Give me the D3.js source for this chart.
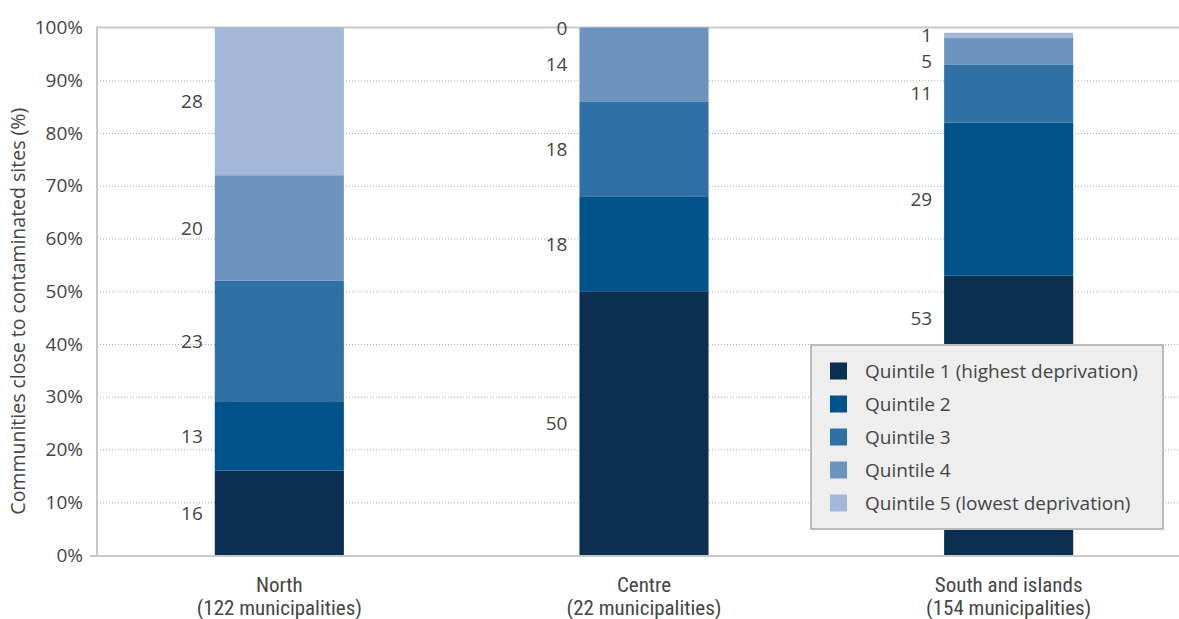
<!DOCTYPE html>
<html><head><meta charset="utf-8">
<script src="https://cdn.jsdelivr.net/npm/d3@7"></script>
<style>
html,body{margin:0;padding:0;background:#fff;}
svg{display:block;}
</style></head>
<body>
<svg id="chart" width="1179" height="619"></svg>
<script>
// ---- data ----
const categories = ["North", "Centre", "South and islands"];
const categorySubs = ["(122 municipalities)", "(22 municipalities)", "(154 municipalities)"];
const seriesNames = ["Quintile 1 (highest deprivation)", "Quintile 2", "Quintile 3", "Quintile 4", "Quintile 5 (lowest deprivation)"];
const quintile1 = [16, 50, 53];
const quintile2 = [13, 18, 29];
const quintile3 = [23, 18, 11];
const quintile4 = [20, 14, 5];
const quintile5 = [28, 0, 1];
const yTickValues = [0, 10, 20, 30, 40, 50, 60, 70, 80, 90, 100];
const yTickLabels = ["0%", "10%", "20%", "30%", "40%", "50%", "60%", "70%", "80%", "90%", "100%"];
const colors = ["#0b2f51", "#00528b", "#2f71a5", "#6d93bf", "#a3b8d8"];

// ---- layout ----
const svg = d3.select("#chart");
const plot = {left: 97, right: 1191, top: 27.5, bottom: 555};
const font = "'Open Sans', sans-serif";
const textColor = "#454545";

const seriesArrays = [quintile1, quintile2, quintile3, quintile4, quintile5];
const keys = seriesNames;
const rows = categories.map((c, i) => {
  const r = {cat: c};
  keys.forEach((k, j) => r[k] = seriesArrays[j][i]);
  return r;
});
const stacked = d3.stack().keys(keys)(rows);

const x = d3.scaleBand().domain(categories).range([plot.left, plot.right])
  .paddingInner(0.646).paddingOuter(0.323);
const y = d3.scaleLinear().domain([0, 100]).range([plot.bottom, plot.top]);

// gridlines
svg.append("g").selectAll("line").data(yTickValues.filter(v => v > 0 && v < 100)).join("line")
  .attr("x1", plot.left).attr("x2", 1179)
  .attr("y1", d => y(d) + 0.5).attr("y2", d => y(d) + 0.5)
  .attr("stroke", "#ababab").attr("stroke-width", 1).attr("stroke-dasharray", "1,2");

// frame lines
svg.append("line").attr("x1", plot.left).attr("x2", 1179).attr("y1", plot.top).attr("y2", plot.top)
  .attr("stroke", "#c8c8c8").attr("stroke-width", 2);
svg.append("line").attr("x1", plot.left).attr("x2", plot.left).attr("y1", plot.top - 1).attr("y2", plot.bottom)
  .attr("stroke", "#c8c8c8").attr("stroke-width", 2);

// bars
const layers = svg.append("g").selectAll("g").data(stacked).join("g")
  .attr("fill", (d, i) => colors[i]);
layers.selectAll("rect").data(d => d).join("rect")
  .attr("x", d => x(d.data.cat))
  .attr("width", x.bandwidth())
  .attr("y", d => y(d[1]))
  .attr("height", d => y(d[0]) - y(d[1]));

// bottom axis line
svg.append("line").attr("x1", 90).attr("x2", 1179).attr("y1", plot.bottom + 1).attr("y2", plot.bottom + 1)
  .attr("stroke", "#c8c8c8").attr("stroke-width", 2);

// legend box geometry
const legend = {x: 811, y: 345, w: 352, h: 184};

// value labels: placed at segment middle, pushed down to avoid overlap, lifted above legend
categories.forEach((c, ci) => {
  const lx = x(c) - 12;
  let prevY = -Infinity;
  for (let li = stacked.length - 1; li >= 0; li--) {
    const d = stacked[li][ci];
    let ly = (y(d[0]) + y(d[1])) / 2;
    if (ly < prevY + 26) ly = prevY + 26;
    if (lx > legend.x && ly > legend.y - 10 && ly < legend.y + legend.h) ly = legend.y - 27;
    prevY = ly;
    svg.append("text")
      .attr("x", lx).attr("y", ly)
      .attr("text-anchor", "end").attr("dominant-baseline", "central")
      .attr("font-family", font).attr("font-size", 19).attr("fill", textColor)
      .text(d[1] - d[0]);
  }
});

// y axis
const yAxis = d3.axisLeft(y).tickValues(yTickValues).tickFormat((d, i) => yTickLabels[i]).tickSize(0).tickPadding(14);
const ya = svg.append("g").attr("transform", `translate(${plot.left},0)`).call(yAxis);
ya.select(".domain").remove();
ya.selectAll("text").attr("font-family", font).attr("font-size", 19).attr("fill", textColor);

// y axis title
svg.append("text")
  .attr("transform", `translate(25,${(plot.top + plot.bottom) / 2 + 20}) rotate(-90)`)
  .attr("text-anchor", "middle")
  .attr("font-family", font).attr("font-size", 19.5).attr("fill", textColor)
  .text("Communities close to contaminated sites (%)");

// x axis labels
const xa = svg.append("g");
categories.forEach((c, i) => {
  const cx = x(c) + x.bandwidth() / 2;
  const t = xa.append("text").attr("x", cx).attr("text-anchor", "middle")
    .attr("font-family", "'Liberation Sans Narrow', 'Roboto Condensed', sans-serif")
    .attr("font-size", 21).attr("fill", textColor);
  t.append("tspan").attr("x", cx).attr("y", 592).text(c);
  t.append("tspan").attr("x", cx).attr("y", 615).text(categorySubs[i]);
});

// legend
const lg = svg.append("g");
lg.append("rect").attr("x", legend.x).attr("y", legend.y).attr("width", legend.w).attr("height", legend.h)
  .attr("fill", "#eeeeee").attr("stroke", "#b9bcbe").attr("stroke-width", 2);
seriesNames.forEach((s, i) => {
  const cy = 371 + i * 33;
  lg.append("rect").attr("x", 830).attr("y", cy - 8.5).attr("width", 17).attr("height", 17).attr("fill", colors[i]);
  lg.append("text").attr("x", 865).attr("y", cy).attr("dominant-baseline", "central")
    .attr("font-family", font).attr("font-size", 19).attr("fill", textColor).text(s);
});
</script>
</body></html>
